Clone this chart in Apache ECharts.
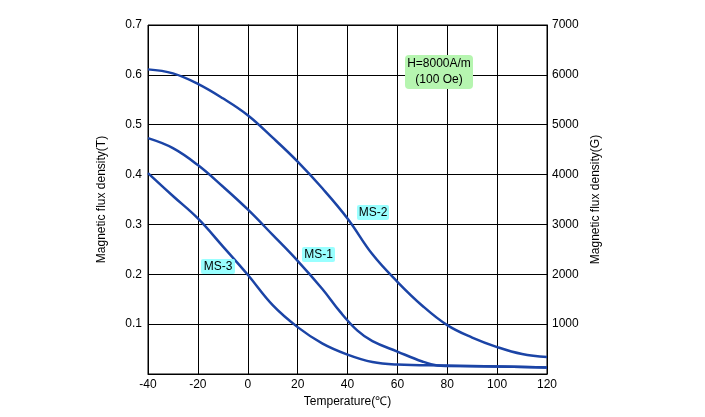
<!DOCTYPE html>
<html>
<head>
<meta charset="utf-8">
<script src="https://cdn.jsdelivr.net/npm/echarts@6/dist/echarts.min.js"></script>
<style>html,body{margin:0;padding:0;background:#fff;}#c{width:705px;height:417px;}</style>
</head>
<body>
<div id="c"></div>
<script>
// Data
var ms2Temp = [-40, -30, -20, -10, 0, 10, 20, 30, 40, 50, 60, 70, 80, 90, 100, 110, 120];
var ms2Val  = [0.611, 0.603, 0.582, 0.553, 0.519, 0.474, 0.426, 0.372, 0.312, 0.240, 0.185, 0.137, 0.098, 0.073, 0.054, 0.040, 0.034];
var ms1Temp = [-40, -30, -20, -10, 0, 10, 20, 30, 37, 44, 50, 60, 70, 76, 80, 100, 120];
var ms1Val  = [0.473, 0.453, 0.419, 0.376, 0.330, 0.279, 0.227, 0.170, 0.125, 0.087, 0.066, 0.045, 0.025, 0.017, 0.016, 0.015, 0.013];
var ms3Temp = [-40, -30, -20, -10, 0, 10, 20, 30, 40, 50, 60, 80, 100, 120];
var ms3Val  = [0.403, 0.357, 0.312, 0.256, 0.199, 0.138, 0.094, 0.061, 0.039, 0.024, 0.019, 0.017, 0.015, 0.013];
var xTicks = [-40, -20, 0, 20, 40, 60, 80, 100, 120];
var leftTicks = [0, 0.1, 0.2, 0.3, 0.4, 0.5, 0.6, 0.7];
var rightTicks = [0, 1000, 2000, 3000, 4000, 5000, 6000, 7000];
var seriesNames = ['MS-2', 'MS-1', 'MS-3'];
var noteLines = ['H=8000A/m', '(100 Oe)'];

function pairs(t, v) { return t.map(function (x, i) { return [x, v[i]]; }); }

var FONT = 'Liberation Sans, Arial, sans-serif';
var LINE = '#1b44a6';
var chart = echarts.init(document.getElementById('c'));
var lineSeries = [[ms2Temp, ms2Val], [ms1Temp, ms1Val], [ms3Temp, ms3Val]].map(function (d, i) {
  return {
    name: seriesNames[i], type: 'line', data: pairs(d[0], d[1]), smooth: 0.4,
    symbol: 'none', lineStyle: { color: LINE, width: 2.5 }, yAxisIndex: 0, z: 5
  };
});
chart.setOption({
  animation: false,
  grid: { left: 148, right: 158, top: 25, bottom: 43, show: true, borderColor: '#000', borderWidth: 1 },
  xAxis: {
    type: 'value', min: xTicks[0], max: xTicks[xTicks.length - 1], interval: 20,
    name: 'Temperature(℃)', nameLocation: 'middle', nameGap: 22,
    nameTextStyle: { color: '#000', fontSize: 12, fontFamily: FONT },
    axisLine: { lineStyle: { color: '#000', width: 1 } }, axisTick: { show: false },
    axisLabel: { color: '#000', fontSize: 12, fontFamily: FONT, margin: 5 },
    splitLine: { show: true, lineStyle: { color: '#000', width: 1 } }
  },
  yAxis: [{
    type: 'value', min: leftTicks[0], max: leftTicks[leftTicks.length - 1], interval: 0.1,
    name: 'Magnetic flux density(T)', nameLocation: 'middle', nameGap: 40, nameRotate: 90,
    nameTextStyle: { color: '#000', fontSize: 12, fontFamily: FONT },
    axisLine: { show: true, lineStyle: { color: '#000', width: 1 } }, axisTick: { show: false },
    axisLabel: { color: '#000', fontSize: 12, fontFamily: FONT, margin: 6, showMinLabel: false,
      formatter: function (v) { return v.toFixed(1); } },
    splitLine: { show: true, lineStyle: { color: '#000', width: 1 } }
  }, {
    type: 'value', position: 'right', min: rightTicks[0], max: rightTicks[rightTicks.length - 1], interval: 1000,
    name: 'Magnetic flux density(G)', nameLocation: 'middle', nameGap: 43, nameRotate: 90,
    nameTextStyle: { color: '#000', fontSize: 12, fontFamily: FONT },
    axisLine: { show: true, lineStyle: { color: '#000', width: 1 } }, axisTick: { show: false },
    axisLabel: { color: '#000', fontSize: 12, fontFamily: FONT, margin: 5, showMinLabel: false,
      formatter: function (v) { return String(v); } },
    splitLine: { show: false }
  }],
  series: lineSeries,
  graphic: [
    { type: 'rect', shape: { x: 405, y: 55, width: 68, height: 34, r: 4 }, style: { fill: '#b6f5b0' }, z: 10 },
    { type: 'text', x: 439, y: 72, style: { text: noteLines.join('\n'), font: '12px ' + FONT, fill: '#000', align: 'center', verticalAlign: 'middle', lineHeight: 16 }, z: 11 },
    { type: 'rect', shape: { x: 357, y: 205, width: 32, height: 15, r: 2 }, style: { fill: '#99ffff' }, z: 10 },
    { type: 'text', x: 373, y: 213, style: { text: seriesNames[0], font: '12px ' + FONT, fill: '#000', align: 'center', verticalAlign: 'middle' }, z: 11 },
    { type: 'rect', shape: { x: 302, y: 247, width: 33, height: 15, r: 2 }, style: { fill: '#99ffff' }, z: 10 },
    { type: 'text', x: 318.5, y: 255, style: { text: seriesNames[1], font: '12px ' + FONT, fill: '#000', align: 'center', verticalAlign: 'middle' }, z: 11 },
    { type: 'rect', shape: { x: 201, y: 259, width: 34, height: 15, r: 2 }, style: { fill: '#99ffff' }, z: 10 },
    { type: 'text', x: 218, y: 267, style: { text: seriesNames[2], font: '12px ' + FONT, fill: '#000', align: 'center', verticalAlign: 'middle' }, z: 11 }
  ]
});
</script>
</body>
</html>
